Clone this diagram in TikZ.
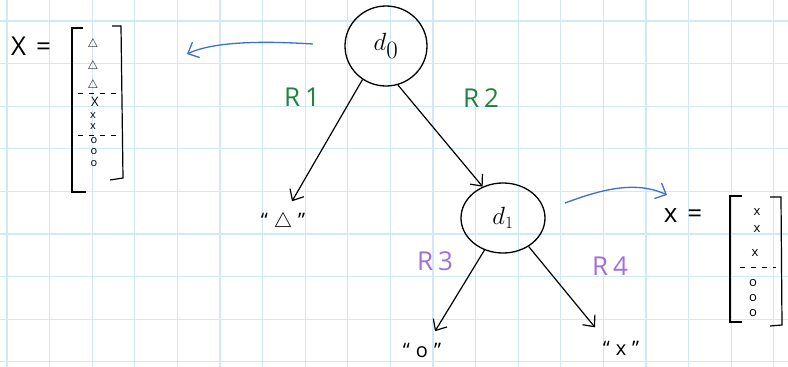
\documentclass[tikz,border=0pt]{standalone}
\usepackage{fontspec}
\setmainfont{Open Sans}
\usetikzlibrary{shapes.geometric,arrows.meta}
\definecolor{gridc}{RGB}{208,232,250}
\definecolor{penblue}{RGB}{62,112,200}
\definecolor{pengreen}{RGB}{32,130,62}
\definecolor{penpurple}{RGB}{160,112,222}
\begin{document}
\begin{tikzpicture}[x=1pt,y=-1pt,
  gridline/.style={gridc, line width=1.3pt},
  dnode/.style={ellipse, draw, line width=1.3pt, inner sep=0pt},
  edge/.style={line width=1.2pt, -{Straight Barb[length=9pt,width=16pt]}},
  bluearr/.style={penblue, line width=1.3pt, -{Straight Barb[length=9pt,width=17pt]}},
  rlab/.style={font=\fontsize{26}{26}\selectfont},
  leaf/.style={font=\fontsize{20}{20}\selectfont},
  eqlab/.style={font=\fontsize{26}{26}\selectfont},
  entry/.style={font=\fontsize{11}{11}\selectfont, inner sep=0pt},
  bigentry/.style={font=\fontsize{13}{13}\selectfont, inner sep=0pt},
  bracket/.style={line width=1.2pt},
  sepline/.style={line width=1pt, dash pattern=on 5pt off 6pt},
]
\useasboundingbox (0,0) rectangle (788,367);
\fill[white] (0,0) rectangle (788,367);
% grid
\foreach \i in {0,...,18} \draw[gridline] (7+42.6*\i,0) -- (7+42.6*\i,367);
\foreach \j in {0,...,8} \draw[gridline] (0,21+42.6*\j) -- (788,21+42.6*\j);

% decision nodes
\node[dnode, minimum width=82pt, minimum height=80pt, font=\fontsize{34}{34}\selectfont] (d0) at (386,46) {$d_0$};
\node[dnode, minimum width=84pt, minimum height=70pt, font=\fontsize{26}{26}\selectfont] (d1) at (503,218) {$d_1$};

% leaves
\node[leaf] (ld) at (283,222) {``\kern6pt$\triangle$\kern6pt''};
\node[leaf] (lo) at (422,350) {``\kern6pt o\kern6pt''};
\node[leaf] (lx) at (621,348) {``\kern6pt x\kern6pt''};

% edges
\draw[edge] (d0.235) -- ([shift={(9,-8)}]ld.north);
\draw[edge] (d0.287) -- (d1.123);
\draw[edge] (d1.240) -- ([shift={(13,-8)}]lo.north);
\draw[edge] (d1.312) -- ([shift={(-26,-10)}]lx.north);

% rule labels
\node[rlab, text=pengreen] (r1) at (302,97) {R\kern5pt1};
\node[rlab, text=pengreen] (r2) at (481,98) {R\kern5pt2};
\node[rlab, text=penpurple] (r3) at (435,261) {R\kern5pt3};
\node[rlab, text=penpurple] (r4) at (610,266) {R\kern5pt4};

% left matrix
\node[eqlab] (xl) at (31,46) {X\kern10pt=};
\draw[bracket] (83,28) -- (72,28) -- (72,192) -- (86,192);
\draw[bracket] (112,26) -- (121,26) -- (123,178) -- (110,180);
\draw[sepline] (78,93) -- (120,93);
\draw[sepline] (78,135) -- (120,135);
\node[bigentry] (a1) at (93,44) {$\triangle$};
\node[bigentry] (a2) at (93,66) {$\triangle$};
\node[bigentry] (a3) at (93,85) {$\triangle$};
\node[bigentry] (a4) at (95,102) {X};
\node[entry] (a5) at (93,116) {x};
\node[entry] (a6) at (93,127) {x};
\node[entry] (a7) at (94,141) {o};
\node[entry] (a8) at (94,152) {o};
\node[entry] (a9) at (94,164) {o};

% right matrix
\node[eqlab] (xr) at (683,216) {x\kern10pt=};
\draw[bracket] (742,196) -- (730,196) -- (730,322) -- (742,322);
\draw[bracket] (770,197) -- (781,197) -- (782,325) -- (770,326);
\draw[sepline] (740,267) -- (776,267);
\node[bigentry] (b1) at (757,212) {x};
\node[bigentry] (b2) at (757,229) {x};
\node[bigentry] (b3) at (755,253) {x};
\node[bigentry] (b4) at (753,283) {o};
\node[bigentry] (b5) at (753,298) {o};
\node[bigentry] (b6) at (753,313) {o};

% blue arrows
\coordinate (tl0) at (313,44);
\coordinate (tl1) at (187,54);
\draw[bluearr] (tl0) .. controls (265,41) and (215,41) .. (tl1);
\coordinate (tr0) at (565,203);
\coordinate (tr1) at (667,195);
\draw[bluearr] (tr0) .. controls (600,190) and (635,180) .. (tr1);
\end{tikzpicture}
\end{document}
